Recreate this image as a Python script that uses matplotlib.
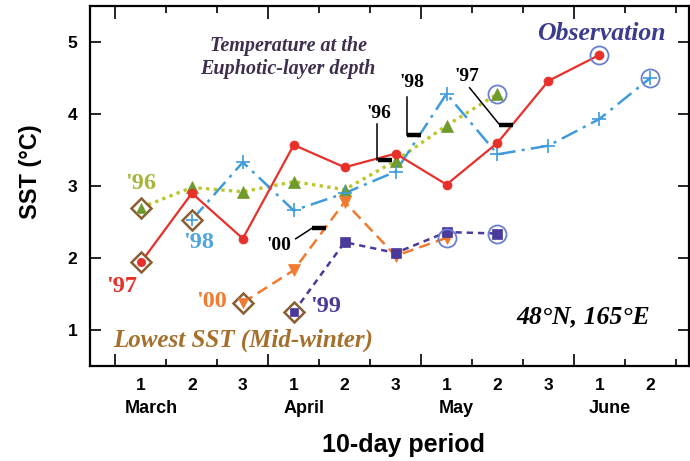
import matplotlib
matplotlib.use('Agg')
import matplotlib.pyplot as plt
import matplotlib.transforms as mtransforms

# ---------------- data ----------------
period_labels = ['1', '2', '3', '1', '2', '3', '1', '2', '3', '1', '2']
months = ['March', 'April', 'May', 'June']
month_start = [0, 3, 6, 9]

x97 = [0, 1, 2, 3, 4, 5, 6, 7, 8, 9]
sst97 = [1.94, 2.90, 2.27, 3.57, 3.26, 3.45, 3.02, 3.60, 4.46, 4.82]
x96 = [0, 1, 2, 3, 4, 5, 6, 7]
sst96 = [2.70, 2.98, 2.92, 3.06, 2.95, 3.35, 3.84, 4.28]
x98 = [1, 2, 3, 4, 5, 6, 7, 8, 9, 10]
sst98 = [2.53, 3.33, 2.66, 2.90, 3.20, 4.28, 3.44, 3.56, 3.93, 4.50]
x00 = [2, 3, 4, 5, 6]
sst00 = [1.38, 1.83, 2.78, 2.03, 2.28]
x99 = [3, 4, 5, 6, 7]
sst99 = [1.25, 2.22, 2.07, 2.36, 2.34]

# temperature at the euphotic-layer depth
euph_years = ["'96", "'98", "'97", "'00"]
euph_pos = [4.79, 5.37, 7.16, 3.49]
euph_val = [3.36, 3.71, 3.85, 2.42]

# ---------------- style ----------------
RED = '#e8302a'
GREEN_LINE = '#bcc62c'
GREEN_MK = '#6f9a2c'
BLUE = '#3f9bd9'
ORANGE = '#f07a2e'
PURPLE = '#4a3a9c'
BROWN = '#8b5e34'
OBS = '#6b7fd0'

SERIF = 'Liberation Serif'
SANS = 'Liberation Sans'

fig = plt.figure(figsize=(6.9, 4.61), dpi=100)
ax = fig.add_axes([90 / 690, 1 - 366 / 461, 599 / 690, 360 / 461])
ax.set_xlim(-1.0, 10.76)
ax.set_ylim(0.5, 5.5)

PX = 1 / 50.9   # data-x per pixel
PY = 1 / 72.0   # data-y per pixel


def series(xs, ys, color, ls, lw, marker, ms, mfc, mec, mew, inner_ms, z):
    # lowest SST diamond at first point
    ax.plot(xs[0], ys[0], marker='D', ms=10, mfc='white', mec=BROWN, mew=1.8,
            zorder=z - 0.5, ls='none')
    ax.plot(xs, ys, color=color, ls=ls, lw=lw, zorder=z - 0.8)
    ax.plot(xs[1:], ys[1:], ls='none', marker=marker, ms=ms, mfc=mfc, mec=mec,
            mew=mew, zorder=z)
    ax.plot(xs[0], ys[0], ls='none', marker=marker, ms=inner_ms, mfc=mfc,
            mec=mec, mew=mew, zorder=z)
    # observation circle at the last point
    ax.plot(xs[-1], ys[-1], ls='none', marker='o', ms=13, mfc='none',
            mec=OBS, mew=1.3, zorder=z + 0.2)


series(x96, sst96, GREEN_LINE, (0, (1, 1.3)), 2.4, '^', 8, GREEN_MK, GREEN_MK, 0.5, 6.5, 4)
series(x98, sst98, BLUE, (0, (7, 2.5, 1.2, 2.5)), 1.8, '+', 10, BLUE, BLUE, 1.2, 8, 4)
series(x00, sst00, ORANGE, (0, (4.5, 2.5)), 1.8, 'v', 8, ORANGE, ORANGE, 0.5, 6.5, 5)
series(x99, sst99, PURPLE, (0, (2.5, 2)), 1.8, 's', 6.5, PURPLE, PURPLE, 0.5, 5.5, 5)
series(x97, sst97, RED, '-', 1.6, 'o', 6.5, RED, RED, 0.5, 6, 6)

# euphotic-layer depth markers (bar + leader line + label)
half = 7 * PX
leader = {
    "'96": [(-8, 0), (-8, 36)], "'98": [(-7, 0), (-7, 38)],
    "'97": [(-6, 0), (-36, 37)], "'00": [(-6, 0), (-23, -11)],
}
label_off = {"'96": (-6, 47), "'98": (-3, 52), "'97": (-39, 48), "'00": (-40, -18)}
for yr, p, v in zip(euph_years, euph_pos, euph_val):
    ax.plot([p - half, p + half], [v, v], color='black', lw=3.2,
            solid_capstyle='butt', zorder=8)
    (ax0, ay0), (ax1, ay1) = leader[yr]
    ax.plot([p + ax0 * PX, p + ax1 * PX], [v + ay0 * PY, v + ay1 * PY],
            color='black', lw=1.1, zorder=8)
    ox, oy = label_off[yr]
    ax.text(p + ox * PX, v + oy * PY, yr, fontsize=14, fontweight='bold',
            family=SERIF, ha='center', va='center', color='black', zorder=9)

# year labels
year_txt = [("'96", 0.0, 3.04, '#a9b43a'), ("'98", 1.13, 2.22, '#4fa6de'),
            ("'97", -0.38, 1.60, RED), ("'00", 1.39, 1.39, ORANGE),
            ("'99", 3.62, 1.33, PURPLE)]
for t, xx, yy, c in year_txt:
    ax.text(xx, yy, t, fontsize=17.5, fontweight='bold', family=SERIF,
            ha='center', va='center', color=c)

# annotations
ax.text(0.331, 0.857, 'Temperature at the\nEuphotic-layer depth', transform=ax.transAxes,
        fontsize=14.5, fontweight='bold', fontstyle='italic', family=SERIF,
        ha='center', va='center', color='#3e2f4c', linespacing=1.2)
ax.text(0.853, 0.925, 'Observation', transform=ax.transAxes, fontsize=18.5,
        fontweight='bold', fontstyle='italic', family=SERIF, ha='center',
        va='center', color='#3b3b8f')
ax.text(0.255, 0.072, 'Lowest SST (Mid-winter)', transform=ax.transAxes, fontsize=18,
        fontweight='bold', fontstyle='italic', family=SERIF, ha='center',
        va='center', color='#a5702c')
ax.text(0.823, 0.136, '48°N, 165°E', transform=ax.transAxes, fontsize=18.5,
        fontweight='bold', fontstyle='italic', family=SERIF, ha='center',
        va='center', color='black')

# axes / ticks
for s in ax.spines.values():
    s.set_linewidth(1.6)
ax.set_xticks([-0.5, 2.5, 5.5, 8.5])
ax.set_xticks([0.5, 1.5, 3.5, 4.5, 6.5, 7.5, 9.5, 10.5], minor=True)
ax.set_xticklabels([])
ax.tick_params(axis='x', which='major', direction='in', length=9, width=1.2,
               top=True, bottom=True)
ax.tick_params(axis='x', which='minor', direction='in', length=5, width=1.2,
               top=True, bottom=True)
ax.set_yticks([1, 2, 3, 4, 5])
ax.tick_params(axis='y', which='major', direction='in', length=8, width=1.2,
               left=True, right=True, pad=9)
for lab in ax.get_yticklabels():
    lab.set_fontsize(12.5)
    lab.set_fontweight('bold')
    lab.set_family(SANS)

trans = mtransforms.blended_transform_factory(ax.transData, ax.transAxes)
for i, lab in enumerate(period_labels):
    ax.text(i, -19 / 360, lab, transform=trans, fontsize=12.5, fontweight='bold',
            family=SANS, ha='center', va='center', clip_on=False)
for m, s in zip(months, month_start):
    ax.text(s + 0.2, -42 / 360, m, transform=trans, fontsize=13, fontweight='bold',
            family=SANS, ha='center', va='center', clip_on=False)

fig.text(404 / 690, 1 - 445 / 461, '10-day period', fontsize=18, fontweight='bold',
         family=SANS, ha='center', va='center')
fig.text(30 / 690, 1 - 172 / 461, 'SST (°C)', fontsize=17, fontweight='bold',
         family=SANS, ha='center', va='center', rotation=90)

fig.savefig('out.png', dpi=100)
